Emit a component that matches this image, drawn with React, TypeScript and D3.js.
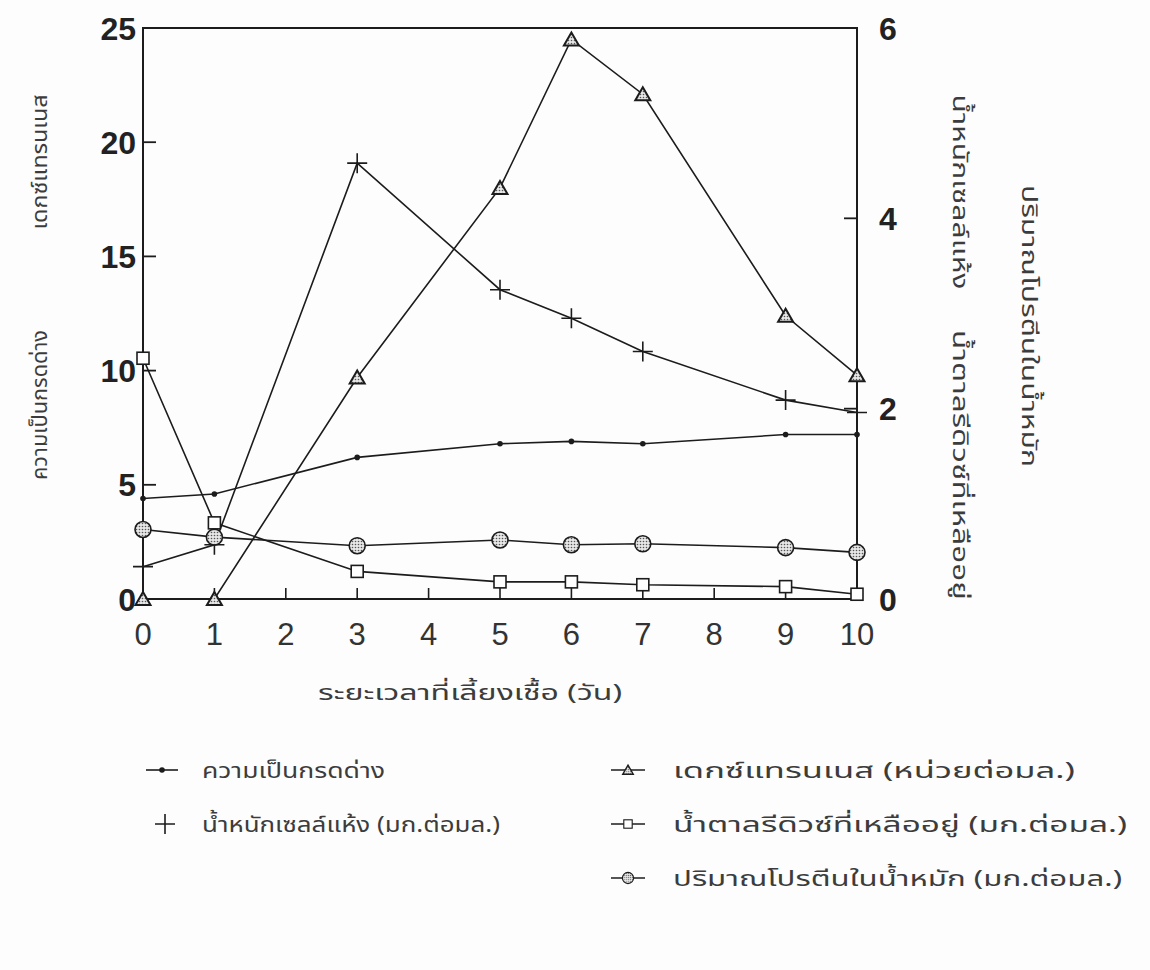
import React from "react";
import * as d3 from "d3";

// Fermentation time course (days)
const days = [0, 1, 3, 5, 6, 7, 9, 10];
// Left axis series
const pH = [4.4, 4.6, 6.2, 6.8, 6.9, 6.8, 7.2, 7.2];
const dextranase = [0, 0, 9.7, 18.0, 24.5, 22.1, 12.4, 9.8];
// Right axis series (mg/ml)
const cellWeight = [0.34, 0.57, 4.58, 3.25, 2.95, 2.6, 2.09, 1.96];
const reducingSugar = [2.53, 0.8, 0.29, 0.18, 0.18, 0.15, 0.13, 0.05];
const protein = [0.73, 0.65, 0.56, 0.62, 0.57, 0.58, 0.54, 0.49];

const xTicks = [0, 1, 2, 3, 4, 5, 6, 7, 8, 9, 10];
const leftTicks = [0, 5, 10, 15, 20, 25];
const rightTicks = [0, 2, 4, 6];

const xTitle = "ระยะเวลาที่เลี้ยงเชื้อ (วัน)";
const leftTitles = ["ความเป็นกรดด่าง", "เดกซ์แทรนเนส"];
const rightTitlesA = ["น้ำหนักเซลล์แห้ง", "น้ำตาลรีดิวซ์ที่เหลืออยู่"];
const rightTitleB = "ปริมาณโปรตีนในน้ำหมัก";
const legendLabels = [
  "ความเป็นกรดด่าง",
  "น้ำหนักเซลล์แห้ง (มก.ต่อมล.)",
  "เดกซ์แทรนเนส (หน่วยต่อมล.)",
  "น้ำตาลรีดิวซ์ที่เหลืออยู่ (มก.ต่อมล.)",
  "ปริมาณโปรตีนในน้ำหมัก (มก.ต่อมล.)",
];

const INK = "#1c1c1c";
const TEXT = "#3c3c3c";
const THAI = "'Noto Sans Thai', 'Noto Sans', 'DejaVu Sans', sans-serif";
const NUM = "'Liberation Sans', Arial, sans-serif";

const x = d3.scaleLinear().domain([0, 10]).range([143, 857]);
const yL = d3.scaleLinear().domain([0, 25]).range([599, 28]);
const yR = d3.scaleLinear().domain([0, 6]).range([599, 28]);

type Marker = "dot" | "plus" | "tri" | "square" | "circle";

function MarkerShape({ kind, cx, cy }: { kind: Marker; cx: number; cy: number }) {
  switch (kind) {
    case "dot":
      return <circle cx={cx} cy={cy} r={2.8} fill={INK} />;
    case "plus":
      return (
        <path
          d={`M${cx - 10},${cy}H${cx + 10}M${cx},${cy - 10}V${cy + 10}`}
          stroke={INK}
          strokeWidth={1.6}
          fill="none"
        />
      );
    case "tri":
      return (
        <path
          d={`M${cx},${cy - 7}L${cx + 7.5},${cy + 6}L${cx - 7.5},${cy + 6}Z`}
          fill="url(#stipple)"
          stroke={INK}
          strokeWidth={2}
        />
      );
    case "square":
      return (
        <rect x={cx - 6} y={cy - 6} width={12} height={12} fill="#fff" stroke={INK} strokeWidth={1.6} />
      );
    case "circle":
      return <circle cx={cx} cy={cy} r={8} fill="url(#stipple)" stroke={INK} strokeWidth={1.6} />;
  }
}

interface Series {
  values: number[];
  scale: d3.ScaleLinear<number, number>;
  marker: Marker;
}

const series: Series[] = [
  { values: pH, scale: yL, marker: "dot" },
  { values: dextranase, scale: yL, marker: "tri" },
  { values: cellWeight, scale: yR, marker: "plus" },
  { values: reducingSugar, scale: yR, marker: "square" },
  { values: protein, scale: yR, marker: "circle" },
];

export default function App() {
  const [x0, x1] = x.range();
  const yBase = yL(0);
  const yTop = yL(25);

  return (
    <svg
      width={1150}
      height={970}
      style={{ position: "absolute", left: 0, top: 0, background: "#fdfdfd" }}
    >
      <defs>
        <pattern id="stipple" width={3} height={3} patternUnits="userSpaceOnUse">
          <rect width={3} height={3} fill="#e6e6e6" />
          <circle cx={1.5} cy={1.5} r={0.8} fill="#555" />
        </pattern>
      </defs>

      {/* frame */}
      <path
        d={`M${x0},${yBase}V${yTop}H${x1}V${yBase}H${x0}`}
        fill="none"
        stroke={INK}
        strokeWidth={2}
      />

      {/* inward ticks */}
      {leftTicks.filter((t) => t > 0 && t < 25).map((t) => (
        <line key={`lt${t}`} x1={x0} x2={x0 + 13} y1={yL(t)} y2={yL(t)} stroke={INK} strokeWidth={1.8} />
      ))}
      {rightTicks.filter((t) => t > 0 && t < 6).map((t) => (
        <line key={`rt${t}`} x1={x1} x2={x1 - 13} y1={yR(t)} y2={yR(t)} stroke={INK} strokeWidth={1.8} />
      ))}
      {xTicks.filter((t) => t > 0 && t < 10).map((t) => (
        <line key={`xt${t}`} x1={x(t)} x2={x(t)} y1={yBase} y2={yBase - 11} stroke={INK} strokeWidth={1.6} />
      ))}

      {/* tick labels */}
      {leftTicks.map((t) => (
        <text
          key={`ll${t}`}
          x={x0 - 7}
          y={yL(t)}
          dy="0.36em"
          textAnchor="end"
          fontFamily={NUM}
          fontWeight="bold"
          fontSize={32}
          fill="#222"
        >
          {t}
        </text>
      ))}
      {rightTicks.map((t) => (
        <text
          key={`rl${t}`}
          x={x1 + 22}
          y={yR(t)}
          dy="0.36em"
          textAnchor="start"
          fontFamily={NUM}
          fontWeight="bold"
          fontSize={32}
          fill="#222"
        >
          {t}
        </text>
      ))}
      {xTicks.map((t) => (
        <text
          key={`xl${t}`}
          x={x(t)}
          y={yBase + 46}
          textAnchor="middle"
          fontFamily={NUM}
          fontSize={31}
          fill="#333"
        >
          {t}
        </text>
      ))}

      {/* series lines */}
      {series.map((s, i) => {
        const line = d3
          .line<number>()
          .x((_, j) => x(days[j]))
          .y((v) => s.scale(v));
        return <path key={`l${i}`} d={line(s.values) ?? ""} fill="none" stroke={INK} strokeWidth={1.6} />;
      })}
      {series.map((s, i) =>
        s.values.map((v, j) => (
          <MarkerShape key={`m${i}-${j}`} kind={s.marker} cx={x(days[j])} cy={s.scale(v)} />
        ))
      )}

      {/* axis titles */}
      <g fontFamily={THAI} fontSize={22} fill={TEXT}>
        <text transform="translate(47,405) rotate(-90)" textAnchor="middle" textLength={150} lengthAdjust="spacingAndGlyphs">
          {leftTitles[0]}
        </text>
        <text transform="translate(47,162) rotate(-90)" textAnchor="middle" textLength={135} lengthAdjust="spacingAndGlyphs">
          {leftTitles[1]}
        </text>
        <text transform="translate(953,192) rotate(90)" textAnchor="middle" textLength={195} lengthAdjust="spacingAndGlyphs">
          {rightTitlesA[0]}
        </text>
        <text transform="translate(953,465) rotate(90)" textAnchor="middle" textLength={270} lengthAdjust="spacingAndGlyphs">
          {rightTitlesA[1]}
        </text>
        <text transform="translate(1022,326) rotate(90)" textAnchor="middle" textLength={282} lengthAdjust="spacingAndGlyphs">
          {rightTitleB}
        </text>
        <text x={470} y={700} textAnchor="middle" textLength={304} lengthAdjust="spacingAndGlyphs">
          {xTitle}
        </text>
      </g>

      {/* legend */}
      <g fontFamily={THAI} fontSize={22} fill={TEXT}>
        {/* left column */}
        <line x1={146} x2={178} y1={770} y2={770} stroke={INK} strokeWidth={1.6} />
        <MarkerShape kind="dot" cx={162} cy={770} />
        <text x={202} y={778} textLength={183} lengthAdjust="spacingAndGlyphs">{legendLabels[0]}</text>
        <MarkerShape kind="plus" cx={165} cy={824} />
        <text x={202} y={832} textLength={298} lengthAdjust="spacingAndGlyphs">{legendLabels[1]}</text>

        {/* right column */}
        <line x1={611} x2={645} y1={770} y2={770} stroke={INK} strokeWidth={1.6} />
        <g transform="translate(628,770) scale(0.7) translate(-628,-770)">
          <MarkerShape kind="tri" cx={628} cy={770} />
        </g>
        <text x={673} y={778} textLength={402} lengthAdjust="spacingAndGlyphs">{legendLabels[2]}</text>

        <line x1={611} x2={645} y1={824} y2={824} stroke={INK} strokeWidth={1.6} />
        <g transform="translate(628,824) scale(0.7) translate(-628,-824)">
          <MarkerShape kind="square" cx={628} cy={824} />
        </g>
        <text x={673} y={832} textLength={454} lengthAdjust="spacingAndGlyphs">{legendLabels[3]}</text>

        <line x1={611} x2={645} y1={878} y2={878} stroke={INK} strokeWidth={1.6} />
        <g transform="translate(628,878) scale(0.7) translate(-628,-878)">
          <MarkerShape kind="circle" cx={628} cy={878} />
        </g>
        <text x={673} y={886} textLength={449} lengthAdjust="spacingAndGlyphs">{legendLabels[4]}</text>
      </g>
    </svg>
  );
}
